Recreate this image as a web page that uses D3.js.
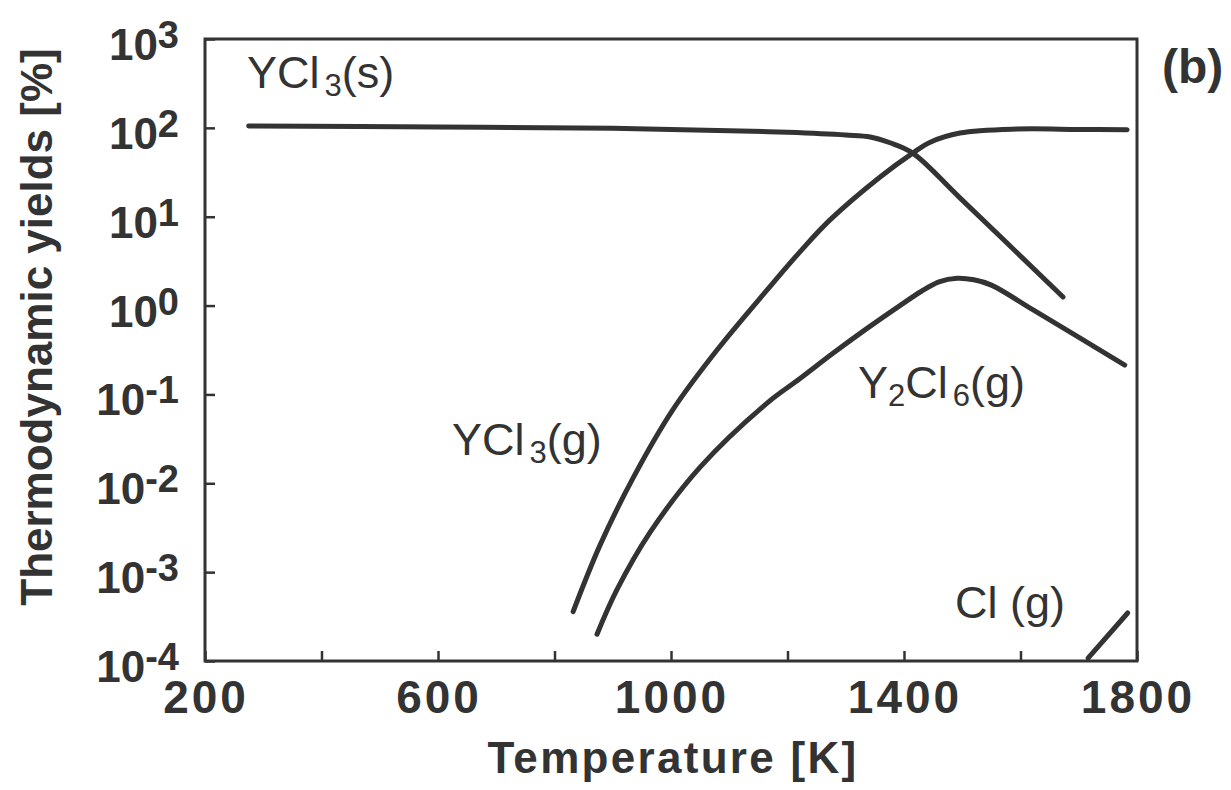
<!DOCTYPE html>
<html>
<head>
<meta charset="utf-8">
<script src="https://cdn.jsdelivr.net/npm/d3@7"></script>
<style>
    body { margin: 0; background: #fff; }
    text { font-family: "Liberation Sans", Arial, Helvetica, sans-serif; fill: #333; }
</style>
</head>
<body>
<div id="chart"></div>
<script>

// temperatures [K] and yields [%]
const ycl3sTemp  = [275, 600, 900, 1100, 1200, 1300, 1342, 1376, 1415, 1496, 1673];
const ycl3sYield = [105, 102, 99, 93, 89, 83, 79, 68, 52, 16.3, 1.25];

const ycl3gTemp  = [832, 878, 935, 1003, 1079, 1165, 1221, 1273, 1359, 1415, 1445, 1496, 1594, 1700, 1783];
const ycl3gYield = [3.6e-4, 2.0e-3, 0.0115, 0.067, 0.316, 1.5, 4.0, 9.2, 28, 52, 69, 87.5, 97, 96, 95];

const y2cl6Temp  = [873, 907, 964, 1050, 1165, 1221, 1278, 1336, 1393, 1430, 1460, 1491, 1520, 1550, 1621, 1779];
const y2cl6Yield = [2.0e-4, 6.3e-4, 2.8e-3, 0.0152, 0.080, 0.15, 0.29, 0.55, 1.0, 1.45, 1.85, 2.03, 1.95, 1.7, 0.9, 0.214];

const clTemp  = [1716, 1784];
const clYield = [1.08e-4, 3.47e-4];

const xTickValues  = [200, 400, 600, 800, 1000, 1200, 1400, 1600, 1800];
const xTickLabels  = [200, 600, 1000, 1400, 1800];
const yExponents   = [-4, -3, -2, -1, 0, 1, 2, 3];

class yieldChart {

    constructor(parentElement) {
        this.parentElement = parentElement;
        this.series = [
            {name: "YCl3(s)",  temp: ycl3sTemp, yield: ycl3sYield},
            {name: "YCl3(g)",  temp: ycl3gTemp, yield: ycl3gYield},
            {name: "Y2Cl6(g)", temp: y2cl6Temp, yield: y2cl6Yield},
            {name: "Cl(g)",    temp: clTemp,    yield: clYield}
        ];
        this.initVis();
    }

    initVis() {
        let vis = this;

        vis.margin = {top: 39, right: 94, bottom: 129, left: 205};
        vis.totalWidth = 1231;
        vis.totalHeight = 790;
        vis.width = vis.totalWidth - vis.margin.left - vis.margin.right;
        vis.height = vis.totalHeight - vis.margin.top - vis.margin.bottom;

        vis.svg = d3.select("#" + vis.parentElement).append("svg")
            .attr("width", vis.totalWidth)
            .attr("height", vis.totalHeight);

        vis.g = vis.svg.append("g")
            .attr("transform", `translate(${vis.margin.left}, ${vis.margin.top})`);

        vis.x = d3.scaleLinear()
            .domain([200, 1800])
            .range([0, vis.width]);

        vis.y = d3.scaleLog()
            .domain([1e-4, 1e3])
            .range([vis.height, 0]);

        // inward ticks, no labels (labels are drawn by hand for superscripts)
        vis.g.append("g")
            .attr("class", "x-axis")
            .attr("transform", `translate(0, ${vis.height})`)
            .call(d3.axisBottom(vis.x).tickValues(xTickValues).tickSizeInner(-10).tickSizeOuter(0).tickFormat(""))
            .call(g => g.select(".domain").remove())
            .call(g => g.selectAll("line").attr("stroke", "#333").attr("stroke-width", 2.5));

        vis.g.append("g")
            .attr("class", "y-axis")
            .call(d3.axisLeft(vis.y).tickValues(yExponents.map(e => Math.pow(10, e))).tickSizeInner(-10).tickSizeOuter(0).tickFormat(""))
            .call(g => g.select(".domain").remove())
            .call(g => g.selectAll("line").attr("stroke", "#333").attr("stroke-width", 2.5));

        // frame
        vis.g.append("rect")
            .attr("width", vis.width)
            .attr("height", vis.height)
            .attr("fill", "none")
            .attr("stroke", "#333")
            .attr("stroke-width", 3);

        // x tick labels
        vis.g.selectAll(".x-label")
            .data(xTickLabels)
            .enter()
            .append("text")
            .attr("class", "x-label")
            .attr("x", d => vis.x(d) + 1)
            .attr("y", vis.height + 52)
            .attr("text-anchor", "middle")
            .style("font-size", "46px")
            .style("font-weight", "bold")
            .style("letter-spacing", "3px")
            .text(d => d);

        // y tick labels 10^n
        let yLab = vis.g.selectAll(".y-label")
            .data(yExponents)
            .enter()
            .append("text")
            .attr("class", "y-label")
            .attr("x", -26)
            .attr("y", d => vis.y(Math.pow(10, d)) + 21)
            .attr("text-anchor", "end")
            .style("font-weight", "bold");
        yLab.append("tspan").style("font-size", "44px").text("10");
        yLab.append("tspan").style("font-size", "38px").attr("dy", -12).text(d => d);

        // axis titles
        vis.g.append("text")
            .attr("x", vis.width / 2 + 2)
            .attr("y", vis.height + 112)
            .attr("text-anchor", "middle")
            .style("font-size", "44px")
            .style("font-weight", "bold")
            .style("letter-spacing", "2.3px")
            .text("Temperature [K]");

        vis.g.append("text")
            .attr("transform", `translate(${52 - vis.margin.left}, ${327 - vis.margin.top}) rotate(-90)`)
            .attr("text-anchor", "middle")
            .style("font-size", "44px")
            .style("font-weight", "bold")
            .text("Thermodynamic yields [%]");

        vis.svg.append("text")
            .attr("x", 1162)
            .attr("y", 83)
            .style("font-size", "48px")
            .style("font-weight", "bold")
            .text("(b)");

        vis.updateVis();
    }

    updateVis() {
        let vis = this;

        let line = d3.line()
            .x(d => vis.x(d[0]))
            .y(d => vis.y(d[1]))
            .curve(d3.curveCatmullRom.alpha(0.5));

        vis.g.selectAll(".curve")
            .data(vis.series)
            .enter()
            .append("path")
            .attr("class", "curve")
            .attr("d", d => line(d.temp.map((t, i) => [t, d.yield[i]])))
            .attr("fill", "none")
            .attr("stroke", "#333")
            .attr("stroke-width", 5)
            .attr("stroke-linecap", "round");

        // curve labels with subscripts
        let labels = [
            {x: 247, y: 88,  parts: [["YCl", 0], ["3", 1], ["(s)", 0]]},
            {x: 452, y: 455, parts: [["YCl", 0], ["3", 1], ["(g)", 0]]},
            {x: 858, y: 398, parts: [["Y", 0], ["2", 1], ["Cl", 0], ["6", 1], ["(g)", 0]]},
            {x: 955, y: 618, parts: [["Cl (g)", 0]]}
        ];

        labels.forEach(l => {
            let t = vis.svg.append("text")
                .attr("x", l.x)
                .attr("y", l.y)
                .style("font-size", "45px");
            let shift = 0;
            l.parts.forEach(p => {
                let dy = p[1] ? 8 - shift : -shift;
                shift += dy;
                t.append("tspan")
                    .attr("dy", dy)
                    .attr("dx", (p[0] === "3" || p[0] === "6") ? 5 : 0)
                    .style("font-size", p[1] ? "31px" : "45px")
                    .text(p[0]);
            });
        });
    }
}

new yieldChart("chart");

</script>
</body>
</html>
